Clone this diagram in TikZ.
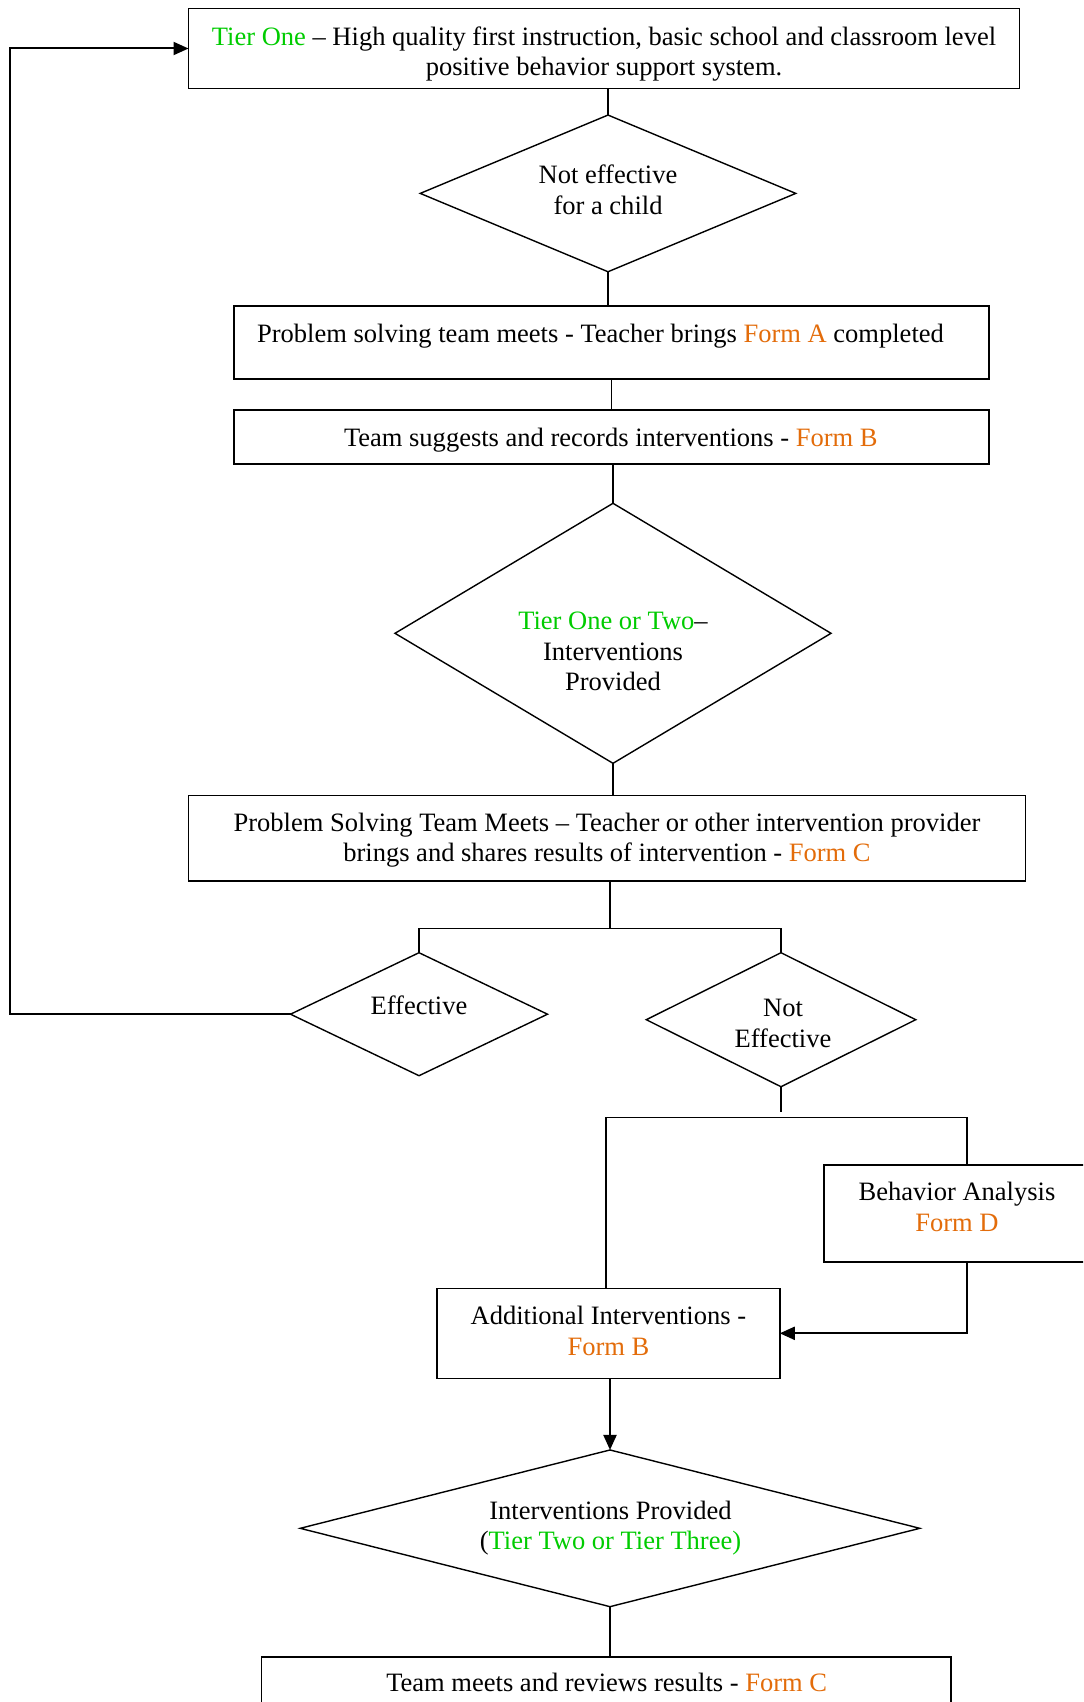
\documentclass[tikz,border=0pt]{standalone}
\usepackage{fontspec}
\setmainfont{Liberation Serif}
\usetikzlibrary{shapes.geometric,arrows.meta}
\definecolor{tiergreen}{RGB}{0,204,0}
\definecolor{formorange}{RGB}{227,108,10}
\newcommand{\tg}[1]{\textcolor{tiergreen}{#1}}
\newcommand{\fo}[1]{\textcolor{formorange}{#1}}
\begin{document}
\begin{tikzpicture}[x=0.5pt,y=-0.5pt,
  box/.style n args={2}{draw,rectangle,line width=0.8pt,inner sep=0pt,outer sep=0pt,
    minimum width=#1*0.5pt,minimum height=#2*0.5pt},
  dia/.style n args={2}{draw,diamond,line width=0.7pt,inner sep=0pt,outer sep=0pt,
    minimum width=#1*0.5pt,minimum height=#2*0.5pt},
  txt/.style={align=center,inner sep=0pt,font=\fontsize{13.26pt}{15.25pt}\selectfont},
  conn/.style={line width=0.65pt},
  arrowline/.style={line width=1pt,-{Triangle[length=7.5pt,width=6.5pt]}}]
\clip (0,0) rectangle (1083,1702);
\fill[white] (0,0) rectangle (1083,1702);

% shapes
\node[box={831}{80}] (T1) at (604,48.5) {};
\node[dia={375.5}{156.7}] (D1) at (608,193.4) {};
\node[box={755}{73}] (B2) at (611.5,342.5) {};
\node[box={755}{54}] (B3) at (611.5,437) {};
\node[dia={436}{260}] (D2) at (613,633.3) {};
\node[box={837}{85.3}] (B4) at (607,838.3) {};
\node[dia={257}{123}] (E) at (419,1014.2) {};
\node[dia={269.5}{134}] (N) at (781,1019.7) {};
\node[box={266}{97.3}] (BA) at (957,1213.6) {};
\node[box={342.7}{90}] (AI) at (608.4,1333.3) {};
\node[dia={619.6}{156.7}] (D4) at (610,1528.3) {};
\node[box={689.3}{56}] (B5) at (606.3,1684.7) {};

% texts
\node[txt] (T1t) at (604,54) {\tg{Tier One} -- High quality first instruction, basic school and classroom level\\positive behavior support system.};
\node[txt] (D1t) at (608,190) {Not effective\\for a child};
\node[txt] (B2t) at (600.5,336) {Problem solving team meets - Teacher brings \fo{Form A} completed};
\node[txt] (B3t) at (610.8,440) {Team suggests and records interventions - \fo{Form B}};
\node[txt] (D2t) at (613,651.5) {\tg{Tier One or Two}--\\Interventions\\Provided};
\node[txt] (B4t) at (607,840) {Problem Solving Team Meets -- Teacher or other intervention provider\\brings and shares results of intervention - \fo{Form C}};
\node[txt] (Et) at (419,1005.7) {Effective};
\node[txt] (Nt) at (783,1023.5) {Not\\Effective};
\node[txt] (BAt) at (957,1207) {Behavior Analysis\\\fo{Form D}};
\node[txt] (AIt) at (608.4,1331) {Additional Interventions -\\\fo{Form B}};
\node[txt] (D4t) at (610.5,1528) {Interventions Provided\\(\tg{Tier Two or Tier Three)}};
\node[txt] (B5t) at (606.7,1682.3) {Team meets and reviews results - \fo{Form C}};

% helper coordinates
\coordinate (j1) at (610,928.3);
\coordinate (lc) at (10.4,1014.2);
\coordinate (n1) at (781,1111.7);
\coordinate (j2l) at (606,1117.3);
\coordinate (j2r) at (967,1117.3);

% connectors
\draw[conn] (D1.north |- T1.south) -- (D1.north);
\draw[conn] (D1.south) -- (D1.south |- B2.north);
\draw[conn] (B2.south) -- (B3.north);
\draw[conn] (D2.north |- B3.south) -- (D2.north);
\draw[conn] (D2.south) -- (D2.south |- B4.north);
\draw[conn] (j1 |- B4.south) -- (j1);
\draw[conn] (E.north) |- (j1) -| (N.north);
\draw[arrowline] (E.west) -- (lc) |- (T1.west);
\draw[conn] (N.south) -- (n1);
\draw[conn] (j2l |- AI.north) -- (j2l) -- (j2r) -- (j2r |- BA.north);
\draw[arrowline] (j2r |- BA.south) |- (AI.east);
\draw[arrowline] (D4.north |- AI.south) -- (D4.north);
\draw[conn] (D4.south) -- (D4.south |- B5.north);
\end{tikzpicture}
\end{document}
